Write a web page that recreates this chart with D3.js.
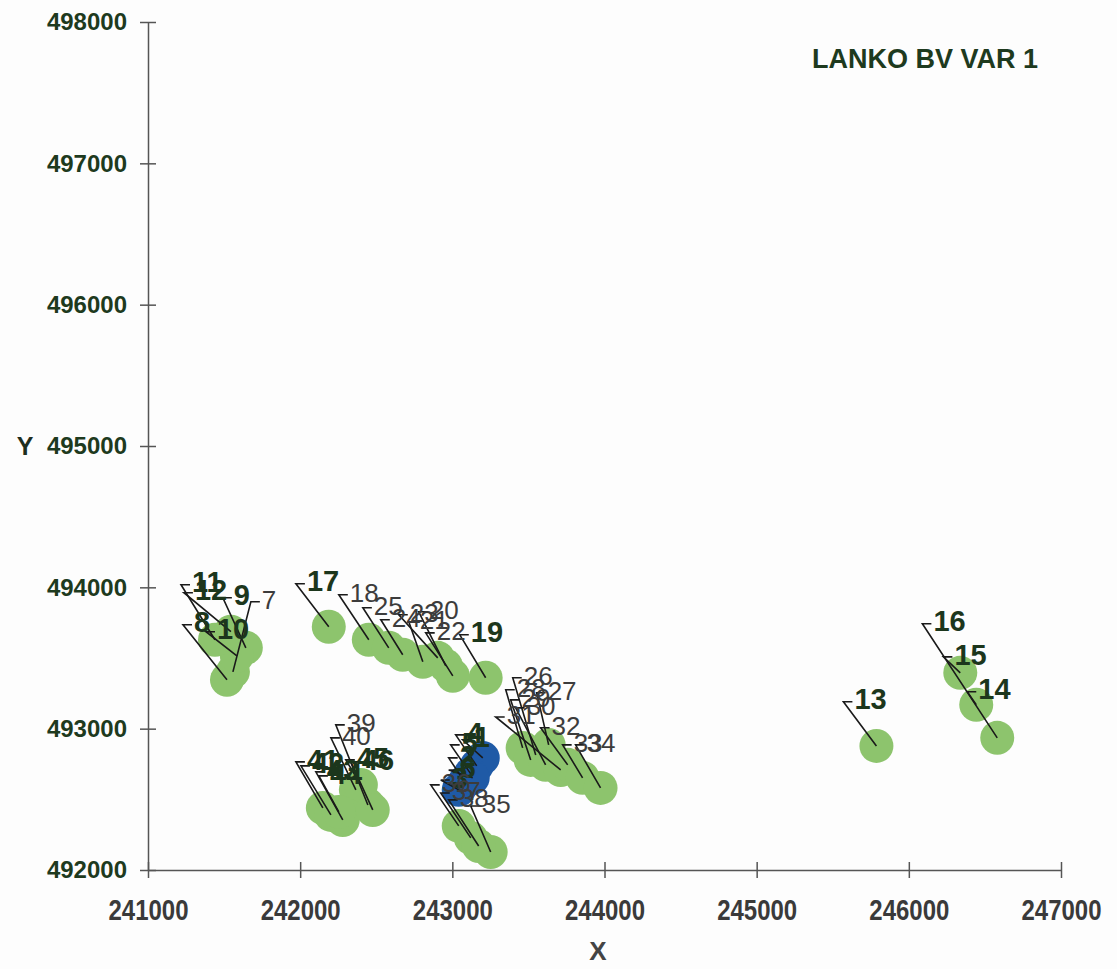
<!DOCTYPE html>
<html>
<head>
<meta charset="utf-8">
<script src="https://cdn.jsdelivr.net/npm/d3@7"></script>
<style>
  html, body { margin: 0; padding: 0; background: #fdfdfd; }
  svg { display: block; }
</style>
</head>
<body>
<svg id="chart" width="1117" height="969"></svg>
<script>
// ---- data ----
const title = "LANKO BV VAR 1";
const xTicks = [241000, 242000, 243000, 244000, 245000, 246000, 247000];
const yTicks = [492000, 493000, 494000, 495000, 496000, 497000, 498000];
const pointIds = [1,2,3,4,5,6,7,8,9,10,11,12,13,14,15,16,17,18,19,20,21,22,23,24,25,26,27,28,29,30,31,32,33,34,35,36,37,38,39,40,41,42,43,44,45,46];
const pointGroup = ["blue","blue","blue","blue","blue","blue",
  "green","green","green","green","green","green","green","green","green","green",
  "green","green","green","green","green","green","green","green","green","green",
  "green","green","green","green","green","green","green","green","green","green",
  "green","green","green","green","green","green","green","green","green","green"];
const xValues = [243200,243081,243042,243160,243121,243134,241558,241519,241643,241584,
  241440,241545,245787,246443,246338,246581,242188,242451,243219,242957,
  242806,243003,242904,242674,242582,243548,243633,243462,243515,243613,
  243712,243758,243856,243974,243252,243042,243121,243173,242445,242366,
  242149,242202,242280,242254,242399,242477];
const yValues = [492793,492623,492567,492737,492680,492652,493402,493346,493572,493515,
  493629,493686,492878,493169,493395,492935,493721,493629,493360,493445,
  493473,493374,493501,493523,493572,492814,492885,492864,492779,492744,
  492708,492744,492652,492581,492127,492312,492227,492170,492460,492567,
  492439,492390,492354,492411,492602,492425];
// label anchor (end of the leader line) in data units
const labelX = [243068,242976,242924,243022,242989,242976,241676,241230,241492,241381,
  241217,241236,245570,246384,246227,246089,241972,242254,243049,242779,
  242714,242825,242648,242530,242412,243397,243554,243351,243383,243416,
  243285,243580,243725,243810,243121,242858,242924,242976,242234,242202,
  241972,242005,242103,242123,242300,242333];
const labelY = [492921,492793,492637,492956,492885,492708,493898,493735,493926,493686,
  494018,493962,493190,493261,493508,493742,494025,493948,493664,493827,
  493756,493678,493806,493771,493856,493360,493254,493275,493204,493147,
  493083,493006,492885,492885,492453,492602,492545,492496,493027,492935,
  492765,492737,492694,492666,492779,492765];
const boldIds = new Set([1,2,3,4,5,6,8,9,10,11,12,13,14,15,16,17,19,41,42,43,44,45,46]);

// ---- drawing ----
const svg = d3.select("#chart");
const x = d3.scaleLinear().domain([241000, 247000]).range([148, 1061]);
const y = d3.scaleLinear().domain([492000, 498000]).range([870, 22]);
const font = "'Liberation Sans', Arial, sans-serif";

const pts = pointIds.map((id, i) => ({
  id, g: pointGroup[i], x: xValues[i], y: yValues[i], lx: labelX[i], ly: labelY[i]
}));

const axisColor = "#555";
// Y axis
const yAxis = svg.append("g").attr("transform", `translate(${x(241000)},0)`)
  .call(d3.axisLeft(y).tickValues(yTicks).tickFormat(d3.format("d")).tickSize(8).tickSizeOuter(0));
yAxis.select(".domain").attr("stroke", axisColor).attr("stroke-width", 1.5);
yAxis.selectAll(".tick line").attr("stroke", axisColor).attr("stroke-width", 1.5).attr("x1", 8);
yAxis.selectAll(".tick text").attr("x", -21).attr("fill", "#1e3a1e")
  .style("font-family", font).style("font-weight", "bold").style("font-size", "24px");

// X axis
const xAxis = svg.append("g").attr("transform", `translate(0,${y(492000)})`)
  .call(d3.axisBottom(x).tickValues(xTicks).tickFormat(d3.format("d")).tickSize(8).tickSizeOuter(0));
xAxis.select(".domain").attr("stroke", axisColor).attr("stroke-width", 1.5);
xAxis.selectAll(".tick line").attr("stroke", axisColor).attr("stroke-width", 1.5).attr("y1", -8);
xAxis.selectAll(".tick text").attr("y", 25).attr("transform", "scale(1,1.2)").attr("fill", "#3a3a3a")
  .style("font-family", font).style("font-weight", "bold").style("font-size", "24px");

// axis titles
svg.append("text").attr("x", 25).attr("y", 448).attr("text-anchor", "middle").attr("dominant-baseline", "middle")
  .attr("fill", "#1e2e1e").style("font-family", font)
  .style("font-weight", "bold").style("font-size", "25px").text("Y");
svg.append("text").attr("x", 598).attr("y", 953).attr("text-anchor", "middle").attr("dominant-baseline", "middle")
  .attr("fill", "#444").style("font-family", font)
  .style("font-weight", "bold").style("font-size", "26px").text("X");

// title
svg.append("text").attr("x", 812).attr("y", 61).attr("dominant-baseline", "middle")
  .attr("fill", "#1e3a1e").style("font-family", font)
  .style("font-weight", "bold").style("font-size", "27px").text(title);

// circles
const colors = { green: "#8dc46d", blue: "#1f5aa6" };
svg.append("g").selectAll("circle").data(pts.filter(d => d.g === "green")).join("circle")
  .attr("cx", d => x(d.x)).attr("cy", d => y(d.y)).attr("r", 17).attr("fill", colors.green);
svg.append("g").selectAll("circle").data(pts.filter(d => d.g === "blue")).join("circle")
  .attr("cx", d => x(d.x)).attr("cy", d => y(d.y)).attr("r", 17).attr("fill", colors.blue);

// leader lines
const tick = 9;
svg.append("g").selectAll("path").data(pts).join("path")
  .attr("d", d => `M${x(d.x)},${y(d.y)}L${x(d.lx)},${y(d.ly)}L${x(d.lx) + tick},${y(d.ly)}`)
  .attr("fill", "none").attr("stroke", "#1a1a1a").attr("stroke-width", 1.6);

// labels
svg.append("g").selectAll("text").data(pts).join("text")
  .attr("x", d => x(d.lx) + tick + 2).attr("y", d => y(d.ly))
  .attr("dominant-baseline", "middle")
  .attr("fill", d => boldIds.has(d.id) ? "#1c361c" : "#3c3c3c")
  .style("font-family", font)
  .style("font-weight", d => boldIds.has(d.id) ? "bold" : "normal")
  .style("font-size", d => boldIds.has(d.id) ? "29px" : "26px")
  .text(d => d.id);
</script>
</body>
</html>
